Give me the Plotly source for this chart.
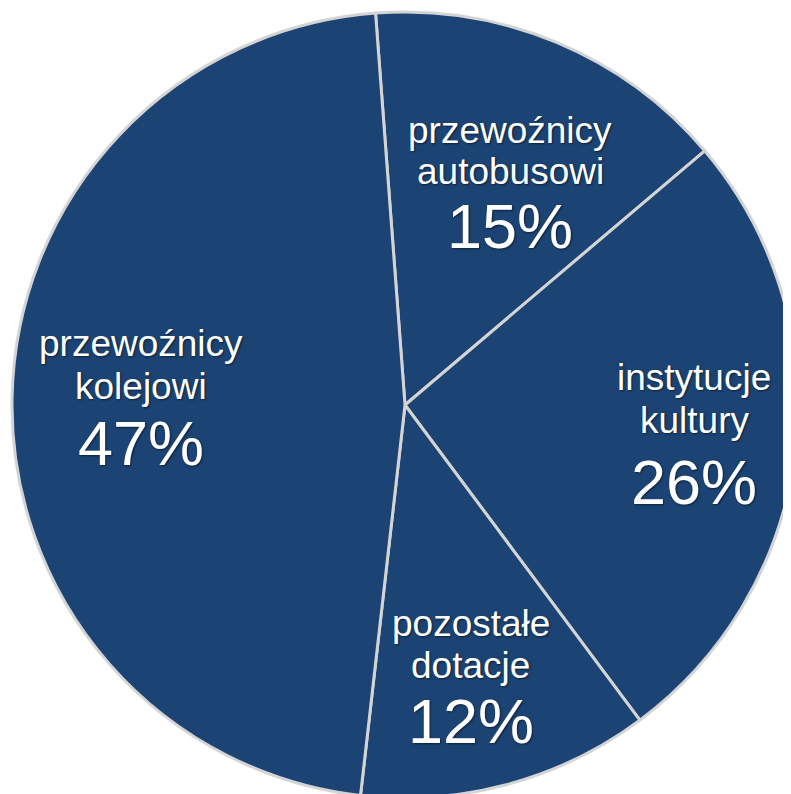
import plotly.graph_objects as go

# ---- data ----
names_line1 = ["przewoźnicy", "instytucje", "pozostałe", "przewoźnicy"]
names_line2 = ["autobusowi", "kultury", "dotacje", "kolejowi"]
shares = [15, 26, 12, 47]
pct_labels = [f"{v}%" for v in shares]

# ---- layout constants (pixels) ----
W, H = 791, 794
OFF = 8  # page body margin
BLUE = "#1B4373"
EDGE = "#D4D4D4"
FONT = "Liberation Sans, Arial, sans-serif"
NAME_SIZE = 37
PCT_SIZE = 63
SHADOW = "1px 1px 2px rgba(0,0,0,0.5)"

# label centers on page (x, y of line1, line2, pct) in pixels
label_pos = [
    (510, 131, 171, 226),
    (694, 378, 420, 482),
    (471, 623, 665, 721),
    (141, 343, 386, 443),
]

def px(x):
    return (x - OFF) / W

def py(y):
    return 1 - (y - OFF) / H

# pie: left/top edge at page 12, radius 393
L, T, D = 12 - OFF, 12 - OFF, 786
fig = go.Figure(go.Pie(
    labels=[a + " " + b for a, b in zip(names_line1, names_line2)],
    values=shares,
    sort=False,
    direction="clockwise",
    rotation=-4.3,
    textinfo="none",
    hoverinfo="label+percent",
    marker=dict(colors=[BLUE] * 4, line=dict(color=EDGE, width=3)),
    domain=dict(x=[L / W, (L + D) / W], y=[1 - (T + D) / H, 1 - T / H]),
    showlegend=False,
))

ann = []
for (l1, l2, pct, (x, y1, y2, y3)) in zip(names_line1, names_line2, pct_labels, label_pos):
    for txt, yy, size in ((l1, y1, NAME_SIZE), (l2, y2, NAME_SIZE), (pct, y3, PCT_SIZE)):
        ann.append(dict(
            x=px(x), y=py(yy), xref="paper", yref="paper",
            xanchor="center", yanchor="middle", showarrow=False,
            text=txt,
            font=dict(family=FONT, size=size, color="white", shadow=SHADOW),
        ))

fig.update_layout(
    width=W, height=H,
    margin=dict(l=0, r=0, t=0, b=0),
    paper_bgcolor="white",
    plot_bgcolor="white",
    annotations=ann,
)

fig.write_html("out.html")
